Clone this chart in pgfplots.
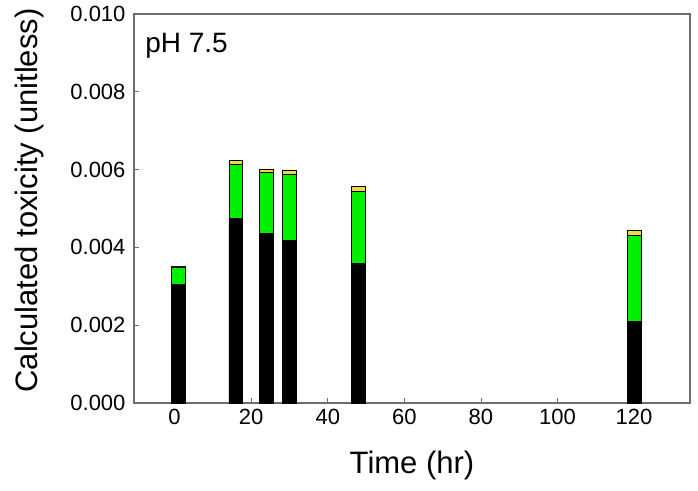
\documentclass[border=0pt]{standalone}
\usepackage{fontspec}
\setmainfont{Liberation Sans}
\usepackage{pgfplots}
\pgfplotsset{compat=1.18}
\definecolor{bargreen}{RGB}{0,240,0}
\definecolor{baryellow}{RGB}{238,214,70}
\definecolor{axgray}{RGB}{110,110,110}
\begin{document}
\begin{tikzpicture}
\begin{axis}[
  scale only axis,
  width=556pt, height=389pt,
  xmin=-10.6, xmax=134.6,
  ymin=0, ymax=0.010,
  ybar stacked,
  bar width=3.6,
  xtick={0,20,40,60,80,100,120},
  ytick={0,0.002,0.004,0.006,0.008,0.010},
  scaled y ticks=false,
  yticklabel style={/pgf/number format/fixed,/pgf/number format/fixed zerofill,/pgf/number format/precision=3},
  /pgf/number format/assume math mode=true,
  tick label style={font=\fontsize{22}{25}\selectfont},
  xtick pos=bottom, ytick pos=left,
  tick align=inside,
  major tick length=5pt,
  tick style={axgray, line width=0.8pt},
  axis line style={axgray, line width=1.3pt},
  xlabel={Time (hr)},
  ylabel={Calculated toxicity (unitless)},
  label style={font=\fontsize{31}{36}\selectfont},
  xlabel style={yshift=-19pt},
  ylabel style={yshift=20pt, xshift=8pt},
  xticklabel style={yshift=-3pt},
  yticklabel style={xshift=-5pt},
  every axis plot/.append style={draw=black, line width=0.6pt},
  clip=false,
]
\addplot[fill=black] coordinates {(1,0.00305) (16,0.00475) (24,0.00435) (30,0.00418) (48,0.00358) (120,0.00209)};
\addplot[fill=bargreen] coordinates {(1,0.00045) (16,0.00139) (24,0.00157) (30,0.00170) (48,0.00185) (120,0.00221)};
\addplot[fill=baryellow] coordinates {(1,0.00002) (16,0.00009) (24,0.00010) (30,0.00011) (48,0.00014) (120,0.00015)};
\node[anchor=base west, inner sep=0pt, font=\fontsize{28}{32}\selectfont] at (rel axis cs:0.02,0.90) {pH 7.5};
\end{axis}
\useasboundingbox ([xshift=-134pt,yshift=-87pt]current axis.south west) rectangle ([xshift=8pt,yshift=14pt]current axis.north east);
\end{tikzpicture}
\end{document}
